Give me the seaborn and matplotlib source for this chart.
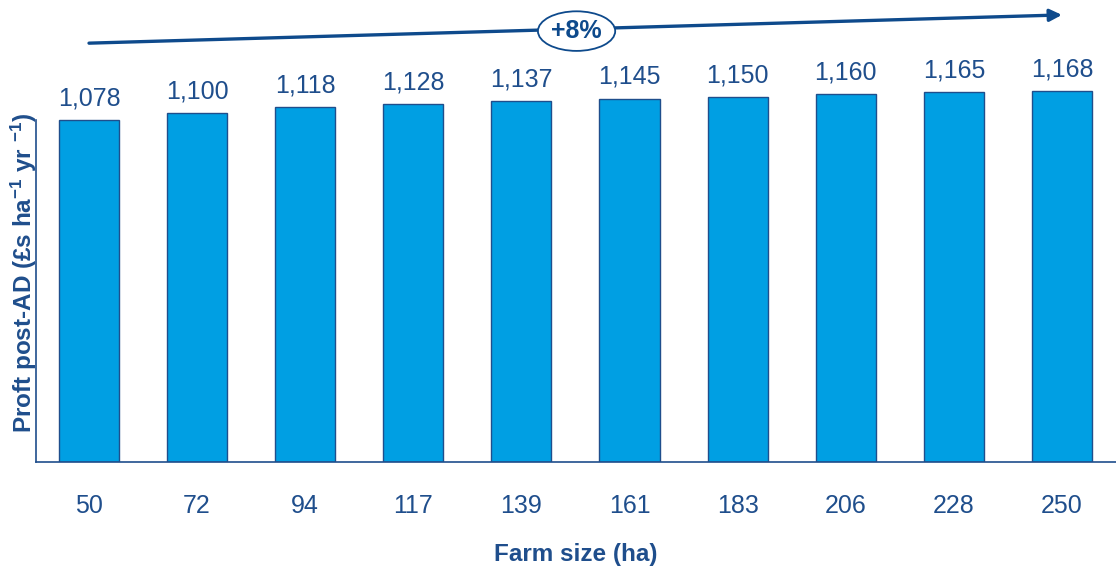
import matplotlib
matplotlib.use('Agg')
import matplotlib.pyplot as plt
import seaborn as sns
import pandas as pd

farm_sizes = ['50', '72', '94', '117', '139', '161', '183', '206', '228', '250']
profit = [1078, 1100, 1118, 1128, 1137, 1145, 1150, 1160, 1165, 1168]
change_label = '+8%'

TEXT = '#1F4E8C'
ARROW = '#0E4A8C'
BAR = '#009FE3'

sns.set_theme(style='white')
plt.rcParams['font.family'] = ['Liberation Sans', 'DejaVu Sans']
plt.rcParams['mathtext.default'] = 'regular'

df = pd.DataFrame({'size': farm_sizes, 'profit': profit})

fig = plt.figure(figsize=(11.16, 5.67), dpi=100)
ax = fig.add_axes([0.0323, 0.185, 0.9677, 0.815])

sns.barplot(data=df, x='size', y='profit', order=farm_sizes, color=BAR,
            saturation=1, width=0.556, edgecolor=TEXT, linewidth=1, ax=ax)

for i, v in enumerate(profit):
    ax.annotate(f'{v:,}', (i, v), xytext=(0, 7), textcoords='offset points',
                ha='center', va='bottom', fontsize=18, color=TEXT)

ax.set_xlim(-0.49, 9.5)
ax.set_ylim(0, 1456)
ax.set_yticks([])
ax.tick_params(axis='x', length=0, pad=23, labelsize=18, labelcolor=TEXT)

for s in ['top', 'right']:
    ax.spines[s].set_visible(False)
for s in ['left', 'bottom']:
    ax.spines[s].set_color(TEXT)
    ax.spines[s].set_linewidth(1.2)
ax.spines['left'].set_bounds(0, profit[0])

ax.set_xlabel('Farm size (ha)', fontsize=17.5, fontweight='bold', color=TEXT, labelpad=18)
ax.set_ylabel(r'Proft post-AD (£s ha$^{-1}$ yr $^{-1}$)', fontsize=17.5,
              fontweight='bold', color=TEXT)
ax.yaxis.set_label_coords(0.003, 0.41)

# trend arrow across the top
ax.annotate('', xy=(9.0, 1409), xytext=(0, 1320),
            arrowprops=dict(arrowstyle='-|>', color=ARROW, lw=2.4, mutation_scale=18,
                            shrinkA=0, shrinkB=0))
ax.text(4.51, 1358, change_label, ha='center', va='center', fontsize=18,
        fontweight='bold', color=ARROW,
        bbox=dict(boxstyle='ellipse,pad=0.08', fc='white', ec=ARROW, lw=1.3))

fig.savefig('out.png', dpi=100)
